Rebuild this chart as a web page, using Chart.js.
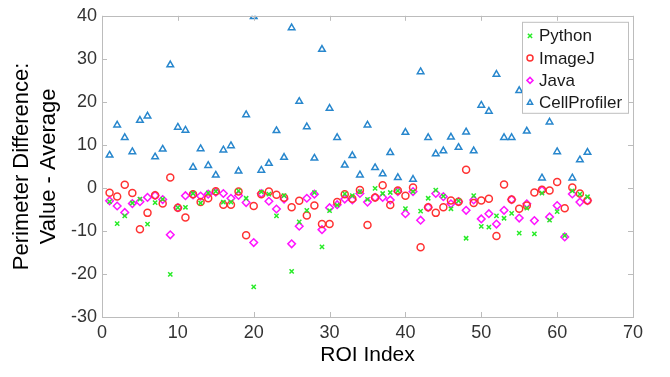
<!DOCTYPE html>
<html>
<head>
<meta charset="utf-8">
<script src="https://cdn.jsdelivr.net/npm/chart.js@4/dist/chart.umd.min.js"></script>
<style>
  html, body { margin: 0; padding: 0; background: #fff; }
  #wrap { width: 670px; height: 377px; }
</style>
</head>
<body>
<div id="wrap"><canvas id="roiChart" width="670" height="377"></canvas></div>
<script>
// ROI indices (x axis)
const roiIndex = [1, 2, 3, 4, 5, 6, 7, 8, 9, 10, 11, 12, 13, 14, 15, 16, 17, 18, 19, 20,
  21, 22, 23, 24, 25, 26, 27, 28, 29, 30, 31, 32, 33, 34, 35, 36, 37, 38, 39, 40,
  41, 42, 43, 44, 45, 46, 47, 48, 49, 50, 51, 52, 53, 54, 55, 56, 57, 58, 59, 60,
  61, 62, 63, 64];

// perimeter difference (value - average)
const python = [-3.2, -8.3, -6.5, -3.5, -2.6, -8.4, -3.4, -2.6, -20.1, -4.6,
  -4.5, -1.3, -3.5, -1.15, -0.8, -3.3, -3.3, -0.7, -2.4, -23.0,
  -0.9, -1.45, -6.5, -1.8, -19.4, -7.9, -5.2, -1.1, -13.7, -5.3,
  -4.0, -1.4, -1.8, -0.85, -2.65, -0.1, -1.3, -1.07, -0.7, -4.8,
  -0.85, -5.4, -2.4, -0.5, -1.9, -4.85, -3.0, -11.7, -1.8, -8.95,
  -9.1, -6.5, -7.05, -5.9, -10.5, -4.7, -10.7, -1.2, -7.5, -5.5,
  -11.1, -0.7, -1.45, -2.05];

const imageJ = [-1.1, -2.0, 0.75, -1.2, -9.6, -5.8, -1.7, -3.65, 2.4, -4.6,
  -6.9, -1.5, -3.3, -2.4, -0.8, -3.9, -3.9, -0.85, -11.0, -4.2,
  -1.5, -0.85, -1.6, -2.3, -4.5, -3.0, -6.4, -4.1, -8.4, -8.4,
  -3.3, -1.45, -2.5, -0.5, -8.6, -2.2, 0.6, -3.95, -0.6, -1.8,
  0.07, -13.8, -4.5, -5.8, -4.5, -2.95, -3.2, 4.2, -3.5, -2.95,
  -2.5, -11.2, 0.8, -2.7, -4.85, -4.1, -1.07, -0.4, -0.6, 1.4,
  -4.7, 0.07, -1.3, -2.95];

const java = [-3.0, -4.2, -5.7, -3.65, -3.2, -2.2, -1.75, -2.7, -10.9, -4.6,
  -1.8, -1.6, -1.9, -1.45, -1.0, -1.3, -2.4, -1.75, -3.4, -12.7,
  -1.3, -3.1, -4.9, -2.6, -13.0, -8.9, -2.4, -1.45, -9.7, -4.6,
  -3.9, -2.6, -2.8, -1.3, -3.3, -2.2, -2.2, -2.8, -0.85, -6.0,
  -0.85, -7.5, -4.5, -1.3, -2.05, -3.7, -3.2, -5.2, -2.8, -7.2,
  -6.0, -8.4, -5.2, -2.7, -7.0, -3.7, -7.6, -0.54, -6.75, -4.1,
  -11.4, -1.4, -3.3, -2.95];

const cellProfiler = [7.6, 14.6, 11.7, 8.4, 15.7, 16.7, 7.2, 9.0, 28.6, 14.1,
  13.4, 4.8, 9.1, 5.2, 2.95, 8.8, 9.8, 3.9, 17.0, 39.8,
  4.1, 5.7, 13.3, 7.1, 37.2, 20.1, 14.2, 6.9, 32.2, 18.5,
  11.7, 5.3, 7.5, 3.0, 14.6, 4.7, 3.25, 8.2, 2.4, 12.9,
  2.0, 27.0, 11.7, 7.9, 8.6, 11.8, 9.4, 13.0, 8.6, 19.2,
  17.8, 26.4, 11.7, 11.7, 22.6, 13.2, null, 2.3, 15.3, 8.4,
  null, 2.3, 6.5, 8.25];

const xTicks = [0, 10, 20, 30, 40, 50, 60, 70];
const yTicks = [-30, -20, -10, 0, 10, 20, 30, 40];

const FONT = "'Liberation Sans', Arial, sans-serif";
const AXIS_GRAY = "#bcbcbc";

function toPoints(vals) {
  return roiIndex.map((x, i) => ({ x: x, y: vals[i] }));
}

// box around the axes with inward ticks (matlab look)
const boxPlugin = {
  id: "box",
  afterDatasetsDraw(chart) {
    const { ctx, chartArea: a, scales } = chart;
    ctx.save();
    ctx.strokeStyle = AXIS_GRAY;
    ctx.lineWidth = 1;
    ctx.strokeRect(Math.round(a.left) + 0.5, Math.round(a.top) + 0.5,
      Math.round(a.right - a.left), Math.round(a.bottom - a.top));
    ctx.beginPath();
    for (const v of xTicks) {
      const px = Math.round(scales.x.getPixelForValue(v)) + 0.5;
      ctx.moveTo(px, a.bottom); ctx.lineTo(px, a.bottom - 5);
      ctx.moveTo(px, a.top); ctx.lineTo(px, a.top + 5);
    }
    for (const v of yTicks) {
      const py = Math.round(scales.y.getPixelForValue(v)) + 0.5;
      ctx.moveTo(a.left, py); ctx.lineTo(a.left + 5, py);
      ctx.moveTo(a.right, py); ctx.lineTo(a.right - 5, py);
    }
    ctx.stroke();
    ctx.restore();
  }
};

// legend box in the top right corner, inside the axes
const legendBox = {
  id: "legendBox",
  afterDraw(chart) {
    const { ctx, chartArea: a } = chart;
    const w = 106, h = 91;
    const x0 = a.right - 111, y0 = a.top + 6;
    ctx.save();
    ctx.fillStyle = "#fff";
    ctx.fillRect(x0, y0, w, h);
    ctx.strokeStyle = "#bfbfbf";
    ctx.lineWidth = 1;
    ctx.strokeRect(x0 + 0.5, y0 + 0.5, w, h);
    ctx.font = "17px " + FONT;
    ctx.textBaseline = "middle";
    chart.data.datasets.forEach((ds, i) => {
      const cy = y0 + 14 + i * 22.3;
      ctx.strokeStyle = ds.borderColor;
      ctx.fillStyle = "rgba(0,0,0,0)";
      ctx.lineWidth = ds.borderWidth;
      Chart.helpers.drawPoint(ctx, { pointStyle: ds.pointStyle, radius: 3, borderWidth: ds.borderWidth }, x0 + 8, cy);
      ctx.fillStyle = "#1a1a1a";
      ctx.fillText(ds.label, x0 + 17, cy + 1);
    });
    ctx.restore();
  }
};

new Chart(document.getElementById("roiChart"), {
  type: "scatter",
  data: {
    datasets: [
      { label: "Python", data: toPoints(python), pointStyle: "crossRot", radius: 3,
        borderColor: "rgb(40,235,40)", backgroundColor: "rgb(40,235,40)", borderWidth: 1.5 },
      { label: "ImageJ", data: toPoints(imageJ), pointStyle: "circle", radius: 3.5,
        borderColor: "rgb(255,50,50)", backgroundColor: "rgba(0,0,0,0)", borderWidth: 1.5 },
      { label: "Java", data: toPoints(java), pointStyle: "rectRot", radius: 3.8,
        borderColor: "rgb(255,20,255)", backgroundColor: "rgba(0,0,0,0)", borderWidth: 1.5 },
      { label: "CellProfiler", data: toPoints(cellProfiler), pointStyle: "triangle", radius: 3.8,
        borderColor: "rgb(40,135,205)", backgroundColor: "rgba(0,0,0,0)", borderWidth: 1.5 }
    ]
  },
  options: {
    responsive: false,
    animation: false,
    layout: { padding: { top: 10, right: 37, left: 0, bottom: 0 } },
    plugins: { legend: { display: false }, tooltip: { enabled: false } },
    scales: {
      x: {
        type: "linear", min: 0, max: 70,
        afterBuildTicks: (s) => { s.ticks = xTicks.map(v => ({ value: v })); },
        afterFit: (s) => { s.height = 60; },
        grid: { display: false, drawTicks: false }, border: { display: false },
        ticks: { padding: 5, color: "#333", font: { family: FONT, size: 18 } },
        title: { display: true, text: "ROI Index", color: "#000",
          font: { family: FONT, size: 21 }, padding: { top: 0, bottom: 9 } }
      },
      y: {
        type: "linear", min: -30, max: 40,
        afterBuildTicks: (s) => { s.ticks = yTicks.map(v => ({ value: v })); },
        afterFit: (s) => { s.width = 102; },
        grid: { display: false, drawTicks: false }, border: { display: false },
        ticks: { padding: 5, color: "#333", font: { family: FONT, size: 18 } },
        title: { display: true, text: ["Perimeter Difference:", "Value - Average"], color: "#000",
          font: { family: FONT, size: 22, lineHeight: 1.25 }, padding: { top: 8, bottom: 0 } }
      }
    }
  },
  plugins: [boxPlugin, legendBox]
});
</script>
</body>
</html>
